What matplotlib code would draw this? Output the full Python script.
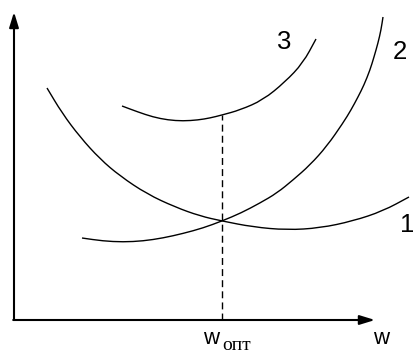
import matplotlib
matplotlib.use("Agg")
import matplotlib.pyplot as plt
from matplotlib.path import Path
from matplotlib.patches import PathPatch

# Cost curves (w on x, cost on y)
w1 = [0.33, 0.48, 0.66, 0.86, 1.06, 1.33, 1.61, 1.86, 2.08, 2.39, 2.73, 3.06, 3.39, 3.69, 3.95]
c1 = [2.32, 2.07, 1.83, 1.61, 1.44, 1.26, 1.13, 1.04, 0.99, 0.93, 0.90, 0.92, 0.99, 1.09, 1.23]

w2 = [0.68, 0.89, 1.09, 1.29, 1.49, 1.69, 1.89, 2.08, 2.27, 2.46, 2.63, 2.79,
      2.96, 3.13, 3.29, 3.37, 3.44, 3.50, 3.56, 3.60, 3.64, 3.67, 3.69]
c2 = [0.82, 0.79, 0.78, 0.79, 0.82, 0.865, 0.92, 0.99, 1.07, 1.17, 1.27, 1.40,
      1.55, 1.74, 1.97, 2.10, 2.23, 2.35, 2.50, 2.63, 2.77, 2.90, 3.03]

w3 = [1.08, 1.24, 1.39, 1.54, 1.69, 1.84, 1.96, 2.08, 2.26, 2.49, 2.71, 2.89, 3.02]
c3 = [2.14, 2.08, 2.03, 2.00, 1.99, 2.00, 2.02, 2.05, 2.10, 2.20, 2.38, 2.57, 2.81]

curve_labels = ["1", "2", "3"]
w_opt = 2.08
c3_at_opt = 2.05

x_tip = 3.61
y_tip = 3.08

fig = plt.figure(figsize=(4.14, 3.54), dpi=100)
ax = fig.add_axes([14 / 414, 0, 400 / 414, 1])
ax.set_xlim(0, 4.0)
ax.set_ylim(-0.34, 3.20)
ax.axis("off")

sans = "Liberation Sans"
serif = "Liberation Serif"


def smooth_path(xs, ys):
    """Quadratic Bezier path through the midpoints, using the points as controls."""
    pts = list(zip(xs, ys))
    verts = [pts[0]]
    codes = [Path.MOVETO]
    mid = lambda a, b: ((a[0] + b[0]) / 2, (a[1] + b[1]) / 2)
    verts.append(mid(pts[0], pts[1]))
    codes.append(Path.LINETO)
    for i in range(1, len(pts) - 1):
        verts += [pts[i], mid(pts[i], pts[i + 1])]
        codes += [Path.CURVE3, Path.CURVE3]
    verts.append(pts[-1])
    codes.append(Path.LINETO)
    return Path(verts, codes)


# axes with arrowheads
arrow = dict(arrowstyle="-|>,head_length=0.65,head_width=0.2", color="black",
             lw=1.5, mutation_scale=14, shrinkA=0, shrinkB=0)
ax.annotate("", xy=(0, y_tip), xytext=(0, 0), arrowprops=arrow)
ax.annotate("", xy=(x_tip, 0), xytext=(-0.008, 0), arrowprops=arrow)

# curves
for w, c in ((w1, c1), (w2, c2), (w3, c3)):
    ax.add_patch(PathPatch(smooth_path(w, c), facecolor="none",
                           edgecolor="black", lw=1.0, capstyle="butt"))

# optimum marker line
ax.plot([w_opt, w_opt], [0, c3_at_opt], color="black", lw=1.0, dashes=(5, 3))

# curve numbers
ax.text(3.93, 0.88, curve_labels[0], fontsize=18.5, family=sans, ha="center", va="baseline")
ax.text(3.86, 2.61, curve_labels[1], fontsize=18.5, family=sans, ha="center", va="baseline")
ax.text(2.70, 2.71, curve_labels[2], fontsize=18.5, family=sans, ha="center", va="baseline")

# axis labels
ax.text(3.67, -0.24, "w", fontsize=16, family=sans, ha="center", va="baseline")
ax.text(w_opt - 0.025, -0.24, "w", fontsize=16, family=sans, ha="right", va="baseline")
ax.text(w_opt, -0.295, "опт", fontsize=14, family=serif, ha="left", va="baseline")

fig.savefig("out.png", dpi=100)
